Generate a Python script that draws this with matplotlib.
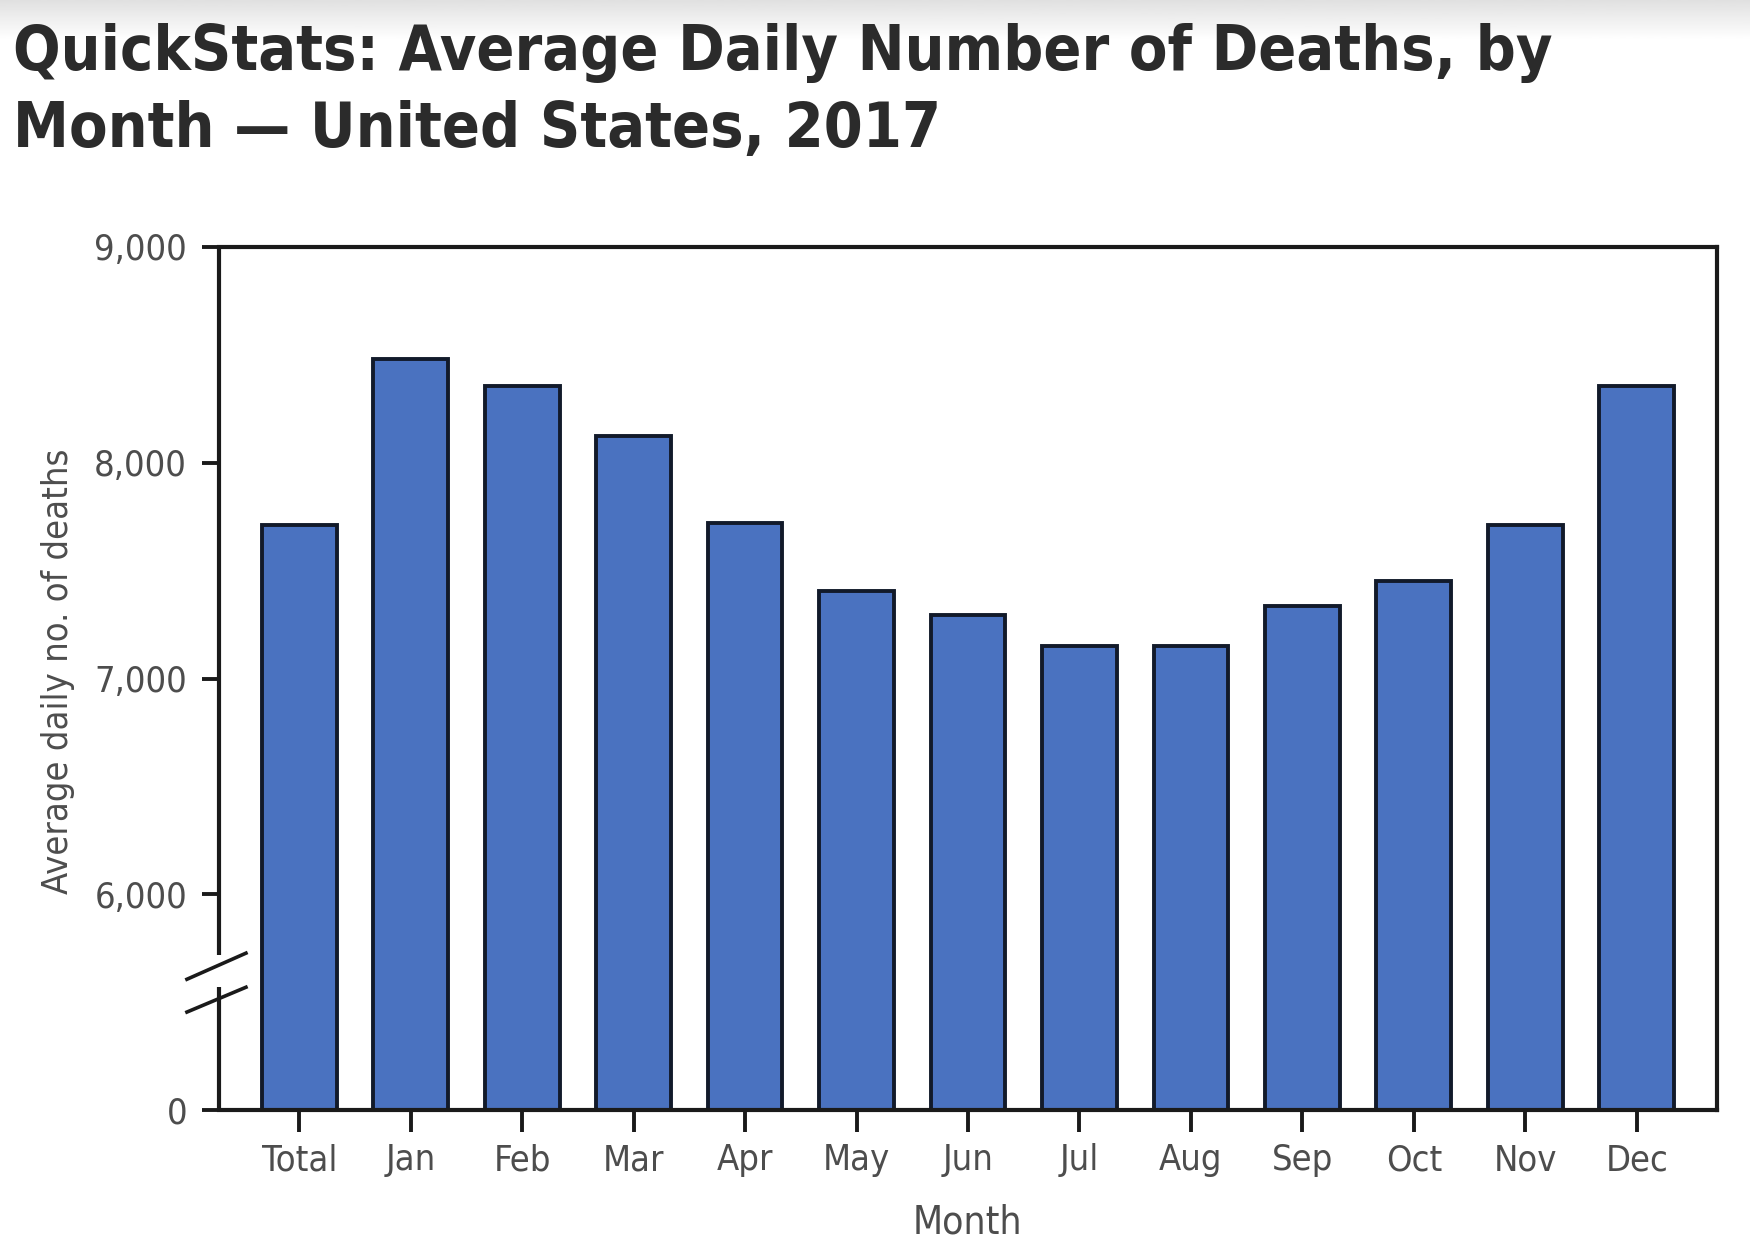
import numpy as np
import matplotlib
matplotlib.use("Agg")
import matplotlib.pyplot as plt

# data
categories = ["Total", "Jan", "Feb", "Mar", "Apr", "May", "Jun",
              "Jul", "Aug", "Sep", "Oct", "Nov", "Dec"]
avg_deaths = [7710, 8480, 8355, 8125, 7722, 7407, 7294,
              7150, 7150, 7336, 7450, 7710, 8355]

# broken y axis: the "0" sits one step below 6,000
y_floor = 5000
ytick_vals = [y_floor, 6000, 7000, 8000, 9000]
ytick_labels = ["0", "6,000", "7,000", "8,000", "9,000"]

W, H = 1750, 1242
fig = plt.figure(figsize=(W / 100, H / 100), dpi=100)

# faint grey band at the very top
bg = fig.add_axes([0, 1 - 40 / H, 1, 40 / H], zorder=-5)
bg.imshow(np.linspace(0.88, 1.0, 50).reshape(-1, 1), cmap="gray", vmin=0, vmax=1,
          aspect="auto", extent=[0, 1, 0, 1])
bg.axis("off")

ax = fig.add_axes([219 / W, 1 - 1110 / H, (1717 - 219) / W, (1110 - 247) / H])

x = np.arange(len(categories))
ax.bar(x, avg_deaths, width=0.67, color="#4a72c0", edgecolor="#121a2a", linewidth=2.8)

ax.set_xlim(-0.72, len(categories) - 1 + 0.72)
ax.set_ylim(y_floor, 9000)

tick_font = dict(family="DejaVu Sans", fontstretch="condensed")
ax.set_yticks(ytick_vals)
ax.set_yticklabels(ytick_labels, color="#4d4d4d", fontsize=26, **tick_font)
ax.set_xticks(x)
ax.set_xticklabels(categories, color="#4d4d4d", fontsize=26, **tick_font)
ax.tick_params(axis="y", direction="out", length=12, width=2.8, color="#1a1a1a", pad=11)
ax.tick_params(axis="x", direction="out", length=16, width=2.8, color="#1a1a1a", pad=8)

for side in ["top", "right", "bottom"]:
    ax.spines[side].set_linewidth(3)
    ax.spines[side].set_color("#1a1a1a")
ax.spines["left"].set_visible(False)

# left spine with a break and two slashes
yt = ax.get_yaxis_transform()
ax.plot([0, 0], [y_floor, 5569], color="#1a1a1a", lw=3, transform=yt, clip_on=False,
        solid_capstyle="butt")
ax.plot([0, 0], [5718, 9000], color="#1a1a1a", lw=3, transform=yt, clip_on=False,
        solid_capstyle="butt")
ax.plot([-0.0214, 0.018], [5606, 5727], color="#1a1a1a", lw=2.6, transform=yt, clip_on=False)
ax.plot([-0.0214, 0.018], [5454, 5569], color="#1a1a1a", lw=2.6, transform=yt, clip_on=False)

fig.text(967 / W, 1 - 1233 / H, "Month", ha="center", va="baseline",
         fontsize=28, color="#4d4d4d", **tick_font)
fig.text(58 / W, 1 - 671 / H, "Average daily no. of deaths", rotation=90,
         ha="center", va="center", fontsize=26, color="#4d4d4d", **tick_font)

title_font = dict(family="DejaVu Sans", fontstretch="condensed", fontweight="bold",
                  color="#2b2b2b", fontsize=45)
fig.text(13 / W, 1 - 70 / H, "QuickStats: Average Daily Number of Deaths, by",
         ha="left", va="baseline", **title_font)
fig.text(13 / W, 1 - 147 / H, "Month \u2014 United States, 2017",
         ha="left", va="baseline", **title_font)

fig.savefig("out.png", dpi=100, facecolor="white")
